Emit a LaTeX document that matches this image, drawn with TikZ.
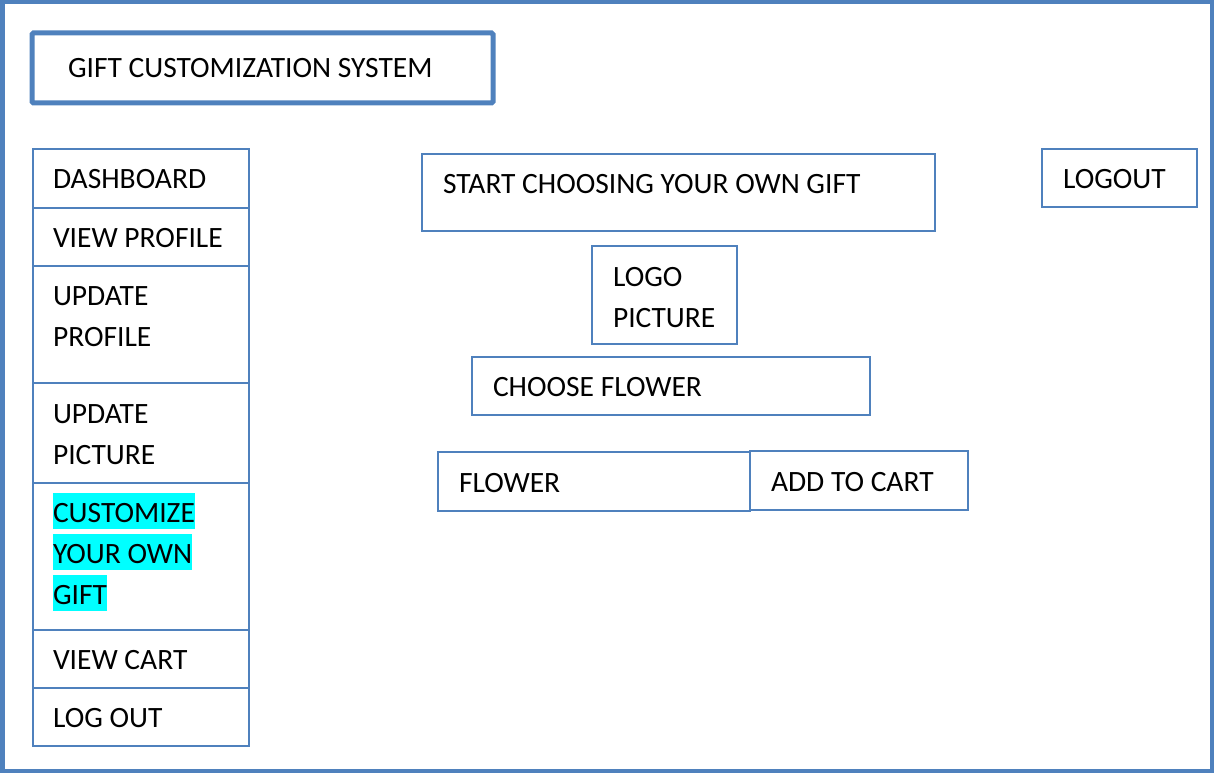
\documentclass[tikz,border=0pt]{standalone}
\usepackage{fontspec}
\setmainfont{Carlito}
\usetikzlibrary{calc}
\definecolor{frameblue}{RGB}{79,129,189}
\definecolor{hlcyan}{RGB}{0,255,255}
\newcommand\hlline[1]{{\setlength\fboxsep{0pt}\colorbox{hlcyan}{\rule[-7pt]{0pt}{36pt}#1}}}
\tikzset{
  box/.style={draw=frameblue, line width=1.3pt, rectangle, inner sep=0pt, outer sep=0pt, anchor=north west},
  txt/.style={anchor=base west, inner sep=0pt, outer sep=0pt, font=\fontsize{29.5}{41}\selectfont, text=black},
}
\begin{document}
\begin{tikzpicture}[x=1pt,y=-1pt]
\useasboundingbox (0,0) rectangle (1214,773);
% outer frame
\node[draw=frameblue, line width=4.5pt, rectangle, inner sep=0pt, outer sep=0pt, minimum width=1209.5pt, minimum height=768.5pt, anchor=north west] (frame) at (2.25,2.25) {};
% title
\node[draw=frameblue, line width=5pt, rectangle, rounded corners=1.5pt, inner sep=0pt, outer sep=0pt, minimum width=461pt, minimum height=70pt, anchor=north west] (title) at (32,33) {};
\node[txt] (titletxt) at ($(title.north west)+(36,45)$) {GIFT CUSTOMIZATION SYSTEM};
% left menu
\node[box, minimum width=216pt, minimum height=59pt] (dash) at (33,149) {};
\node[txt] at ($(dash.north west)+(20,39)$) {DASHBOARD};
\node[box, minimum width=216pt, minimum height=58pt] (viewp) at (33,208) {};
\node[txt] at ($(viewp.north west)+(20,39)$) {VIEW PROFILE};
\node[box, minimum width=216pt, minimum height=117pt] (updp) at (33,266) {};
\node[txt] at ($(updp.north west)+(20,39)$) {UPDATE};
\node[txt] at ($(updp.north west)+(20,80)$) {PROFILE};
\node[box, minimum width=216pt, minimum height=100pt] (updpic) at (33,383) {};
\node[txt] at ($(updpic.north west)+(20,40)$) {UPDATE};
\node[txt] at ($(updpic.north west)+(20,81)$) {PICTURE};
\node[box, minimum width=216pt, minimum height=147pt] (cust) at (33,483) {};
\node[txt] at ($(cust.north west)+(20,39)$) {\hlline{CUSTOMIZE}};
\node[txt] at ($(cust.north west)+(20,80)$) {\hlline{YOUR OWN}};
\node[txt] at ($(cust.north west)+(20,121)$) {\hlline{GIFT}};
\node[box, minimum width=216pt, minimum height=58pt] (vcart) at (33,630) {};
\node[txt] at ($(vcart.north west)+(20,39)$) {VIEW CART};
\node[box, minimum width=216pt, minimum height=58pt] (lout) at (33,688) {};
\node[txt] at ($(lout.north west)+(20,39)$) {LOG OUT};
% right content
\node[box, minimum width=513pt, minimum height=77pt] (start) at (422,154) {};
\node[txt] at ($(start.north west)+(21,39)$) {START CHOOSING YOUR OWN GIFT};
\node[box, minimum width=155pt, minimum height=58pt] (logout) at (1042,149) {};
\node[txt] at ($(logout.north west)+(21,39)$) {LOGOUT};
\node[box, minimum width=145pt, minimum height=98pt] (logo) at (592,246) {};
\node[txt] at ($(logo.north west)+(21,40)$) {LOGO};
\node[txt] at ($(logo.north west)+(21,81)$) {PICTURE};
\node[box, minimum width=398pt, minimum height=58pt] (choose) at (472,357) {};
\node[txt] at ($(choose.north west)+(21,39)$) {CHOOSE FLOWER};
\node[box, minimum width=312pt, minimum height=59pt] (flower) at (438,452) {};
\node[txt] at ($(flower.north west)+(21,40)$) {FLOWER};
\node[box, minimum width=218pt, minimum height=59pt] (add) at (750,451) {};
\node[txt] at ($(add.north west)+(21,40)$) {ADD TO CART};
\end{tikzpicture}
\end{document}
